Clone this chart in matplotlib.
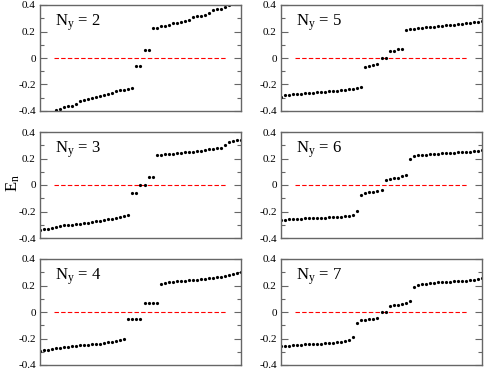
"""
Energy levels E_n for strips of width N_y = 2..7
"""

import numpy as np
import matplotlib
matplotlib.use('Agg')
import matplotlib.pyplot as plt
from matplotlib.ticker import MultipleLocator

plt.rcParams['font.family'] = 'Liberation Serif'
plt.rcParams['mathtext.fontset'] = 'custom'
plt.rcParams['mathtext.rm'] = 'Liberation Serif'
plt.rcParams['mathtext.it'] = 'Liberation Serif:italic'

# ---- data ----
ny2_start = 4
ny2_E = [-0.395, -0.382, -0.370, -0.365, -0.360, -0.349, -0.324, -0.316, -0.309, -0.304,
         -0.294, -0.286, -0.278, -0.273, -0.266, -0.248, -0.243, -0.238, -0.233, -0.225,
         -0.058, -0.058, 0.060, 0.060,
         0.228, 0.230, 0.238, 0.243, 0.251, 0.261, 0.266, 0.271, 0.278, 0.289,
         0.306, 0.314, 0.319, 0.324, 0.339, 0.365, 0.370, 0.372, 0.385, 0.397]

ny3_start = 0
ny3_E = [-0.342, -0.334, -0.329, -0.324, -0.319, -0.309, -0.304, -0.301, -0.299, -0.296,
         -0.291, -0.289, -0.284, -0.279, -0.273, -0.268, -0.263, -0.258, -0.253, -0.246,
         -0.238, -0.233, -0.223,
         -0.058, -0.058, 0.0, 0.0, 0.061, 0.061,
         0.225, 0.228, 0.231, 0.234, 0.237, 0.240, 0.243, 0.246, 0.249, 0.252,
         0.256, 0.260, 0.264, 0.268, 0.272, 0.277, 0.283, 0.300, 0.327, 0.334,
         0.339, 0.342]

ny4_start = 0
ny4_E = [-0.296, -0.289, -0.284, -0.278, -0.273, -0.268, -0.263, -0.261, -0.258, -0.256,
         -0.251, -0.248, -0.246, -0.243, -0.241, -0.238, -0.236, -0.230, -0.225, -0.220,
         -0.210, -0.203,
         -0.056, -0.056, -0.056, -0.056, 0.066, 0.066, 0.066, 0.066,
         0.213, 0.220, 0.224, 0.228, 0.231, 0.234, 0.236, 0.239, 0.242, 0.245,
         0.248, 0.251, 0.254, 0.257, 0.261, 0.265, 0.270, 0.277, 0.286, 0.295, 0.301]

ny5_start = 0
ny5_E = [-0.291, -0.280, -0.276, -0.273, -0.271, -0.268, -0.266, -0.263, -0.261, -0.258,
         -0.256, -0.253, -0.250, -0.248, -0.246, -0.243, -0.240, -0.236, -0.231, -0.225,
         -0.216,
         -0.068, -0.060, -0.050, -0.048, 0.0, 0.0, 0.050, 0.052, 0.065, 0.070,
         0.215, 0.219, 0.222, 0.225, 0.228, 0.231, 0.234, 0.237, 0.240, 0.243,
         0.246, 0.249, 0.252, 0.255, 0.258, 0.261, 0.265, 0.269, 0.273, 0.282]

ny6_start = 0
ny6_E = [-0.266, -0.262, -0.259, -0.257, -0.255, -0.253, -0.251, -0.250, -0.249, -0.248,
         -0.247, -0.246, -0.244, -0.243, -0.241, -0.239, -0.236, -0.232, -0.226, -0.197,
         -0.073, -0.063, -0.051, -0.051, -0.048, -0.038,
         0.038, 0.048, 0.050, 0.053, 0.068, 0.073,
         0.200, 0.218, 0.224, 0.228, 0.230, 0.232, 0.234, 0.236, 0.238, 0.240,
         0.242, 0.244, 0.246, 0.248, 0.250, 0.252, 0.255, 0.259, 0.266]

ny7_start = 0
ny7_E = [-0.258, -0.255, -0.253, -0.251, -0.249, -0.247, -0.245, -0.243, -0.242, -0.240,
         -0.238, -0.236, -0.234, -0.232, -0.229, -0.226, -0.221, -0.214, -0.188,
         -0.081, -0.064, -0.059, -0.055, -0.051, -0.043,
         0.0, 0.0,
         0.046, 0.051, 0.055, 0.059, 0.066, 0.086,
         0.187, 0.205, 0.211, 0.215, 0.218, 0.221, 0.223, 0.225, 0.227, 0.229,
         0.231, 0.233, 0.235, 0.237, 0.240, 0.243, 0.247, 0.255]

panels = [
    (2, ny2_start, ny2_E), (5, ny5_start, ny5_E),
    (3, ny3_start, ny3_E), (6, ny6_start, ny6_E),
    (4, ny4_start, ny4_E), (7, ny7_start, ny7_E),
]

yticks = [-0.4, -0.2, 0.0, 0.2, 0.4]
ytick_labels = ['-0.4', '-0.2', '0', '0.2', '0.4']
zero_line_x = (3.5, 46.3)

# ---- layout ----
W, H = 485, 370
fig = plt.figure(figsize=(W / 100, H / 100), dpi=100)

col_left = [40, 281]
row_top = [5, 132, 259]
ax_w, ax_h = 201, 106

frame = '0.4'

for i, (ny, start, energies) in enumerate(panels):
    r, c = divmod(i, 2)
    x0 = col_left[c] / W
    y0 = 1 - (row_top[r] + ax_h) / H
    ax = fig.add_axes([x0, y0, ax_w / W, ax_h / H])

    idx = np.arange(start, start + len(energies))
    ax.plot(zero_line_x, [0, 0], color='red', lw=0.8, linestyle=(0, (4, 2)))
    ax.plot(idx, energies, 'o', color='black', ms=2.3, mec='none', clip_on=True)

    ax.set_xlim(0, 50)
    ax.set_ylim(-0.4, 0.4)
    ax.set_xticks([])
    ax.set_yticks(yticks)
    ax.set_yticklabels(ytick_labels, fontsize=8)
    ax.yaxis.set_minor_locator(MultipleLocator(0.1))
    ax.tick_params(axis='y', which='both', direction='in', left=True, right=True,
                   color=frame, pad=3)
    ax.tick_params(axis='y', which='major', length=5, width=0.8)
    ax.tick_params(axis='y', which='minor', length=3, width=0.8)
    for s in ax.spines.values():
        s.set_color(frame)
        s.set_linewidth(1.0)

    ax.text(0.075, 0.81, r'$\mathrm{N_y}$ = %d' % ny, transform=ax.transAxes,
            fontsize=12, va='baseline', ha='left')

fig.text(13 / W, 1 - 183 / H, r'$\mathrm{E_n}$', rotation=90, fontsize=12,
         ha='center', va='center')

fig.savefig('out.png', dpi=100)
